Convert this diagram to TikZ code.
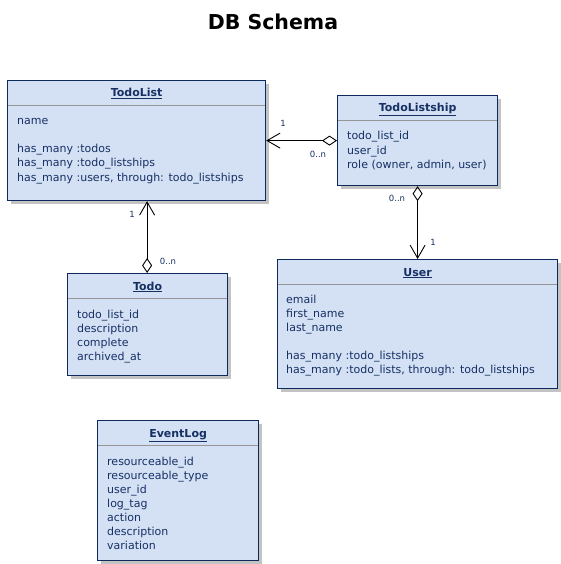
\documentclass[tikz,border=0pt]{standalone}
\usepackage{fontspec}
\setmainfont{DejaVu Sans}
\usetikzlibrary{arrows.meta,shadows}
\definecolor{boxfill}{RGB}{212,225,245}
\definecolor{boxline}{RGB}{12,42,92}
\definecolor{txt}{RGB}{22,48,100}
\definecolor{sepgray}{RGB}{150,150,150}
\definecolor{shadowgray}{RGB}{195,195,195}
\tikzset{
  box/.style={draw=boxline, line width=1.2pt, fill=boxfill, anchor=north west, inner sep=0pt,
    drop shadow={shadow xshift=3pt, shadow yshift=-3pt, fill=shadowgray, opacity=1}},
  sepline/.style={draw=sepgray, line width=0.9pt},
  ttl/.style={anchor=base, inner sep=0pt, text=txt, font=\fontsize{11}{14}\selectfont\bfseries},
  attr/.style={anchor=base west, inner sep=0pt, text=txt, font=\fontsize{11}{14}\selectfont},
  mult/.style={inner sep=0pt, text=txt, font=\fontsize{8.5}{10}\selectfont},
  assoc/.style={line width=0.9pt, {Diamond[open,length=15pt,width=10pt]}-{Straight Barb[length=13pt,width=15pt]}},
}
\newcommand\umlrows[4]{%
  \foreach \t [count=\i from 0] in {#4} {\node[attr] (#1-\i) at (#2, #3+14*\i) {\t};}}
\newcommand\umlhead[2]{%
  \draw[sepline] ([xshift=1pt,yshift=-25pt]#1.north west) -- ([xshift=-1pt,yshift=-25pt]#1.north east);
  \node[ttl] (#1-title) at ([yshift=-17pt]#1.north) {\underline{#2}};}
\begin{document}
\begin{tikzpicture}[x=1pt,y=-1pt]
\useasboundingbox[fill=white] (0,0) rectangle (560,564);
\node[anchor=base, inner sep=0pt, font=\fontsize{20.5}{24}\selectfont\bfseries] (title) at (273,30) {DB Schema};

% TodoList
\node[box, minimum width=258pt, minimum height=120pt] (tl) at (7,80) {};
\umlhead{tl}{TodoList}
\umlrows{tla}{17}{125}{name}
\umlrows{tlb}{17}{153}{has\_many :todos, has\_many :todo\_listships, {has\_many :users, through: todo\_listships}}

% TodoListship
\node[box, minimum width=160pt, minimum height=90pt] (tls) at (337,95) {};
\umlhead{tls}{TodoListship}
\umlrows{tlsa}{347}{140}{todo\_list\_id, user\_id, {role (owner, admin, user)}}

% Todo
\node[box, minimum width=160pt, minimum height=102pt] (todo) at (67,273) {};
\umlhead{todo}{Todo}
\umlrows{todoa}{77}{318}{todo\_list\_id, description, complete, archived\_at}

% User
\node[box, minimum width=280pt, minimum height=129pt] (user) at (277,259) {};
\umlhead{user}{User}
\umlrows{usera}{286}{303}{email, first\_name, last\_name}
\umlrows{userb}{286}{359}{has\_many :todo\_listships, {has\_many :todo\_lists, through: todo\_listships}}

% EventLog
\node[box, minimum width=161pt, minimum height=140pt] (ev) at (97,420) {};
\umlhead{ev}{EventLog}
\umlrows{eva}{107}{465}{resourceable\_id, resourceable\_type, user\_id, log\_tag, action, description, variation}

% associations
\draw[assoc] (tls.west) -- (tls.west -| tl.east);
\draw[assoc] ([xshift=-0.5pt]todo.north) -- ([xshift=-0.5pt]todo.north |- tl.south);
\draw[assoc] (tls.south) -- (tls.south |- user.north);

\node[mult] (m1) at (283,123) {1};
\node[mult] (m2) at (318,154) {0..n};
\node[mult] (m3) at (132,214) {1};
\node[mult] (m4) at (168,261) {0..n};
\node[mult] (m5) at (397,198) {0..n};
\node[mult] (m6) at (433,242) {1};
\end{tikzpicture}
\end{document}
